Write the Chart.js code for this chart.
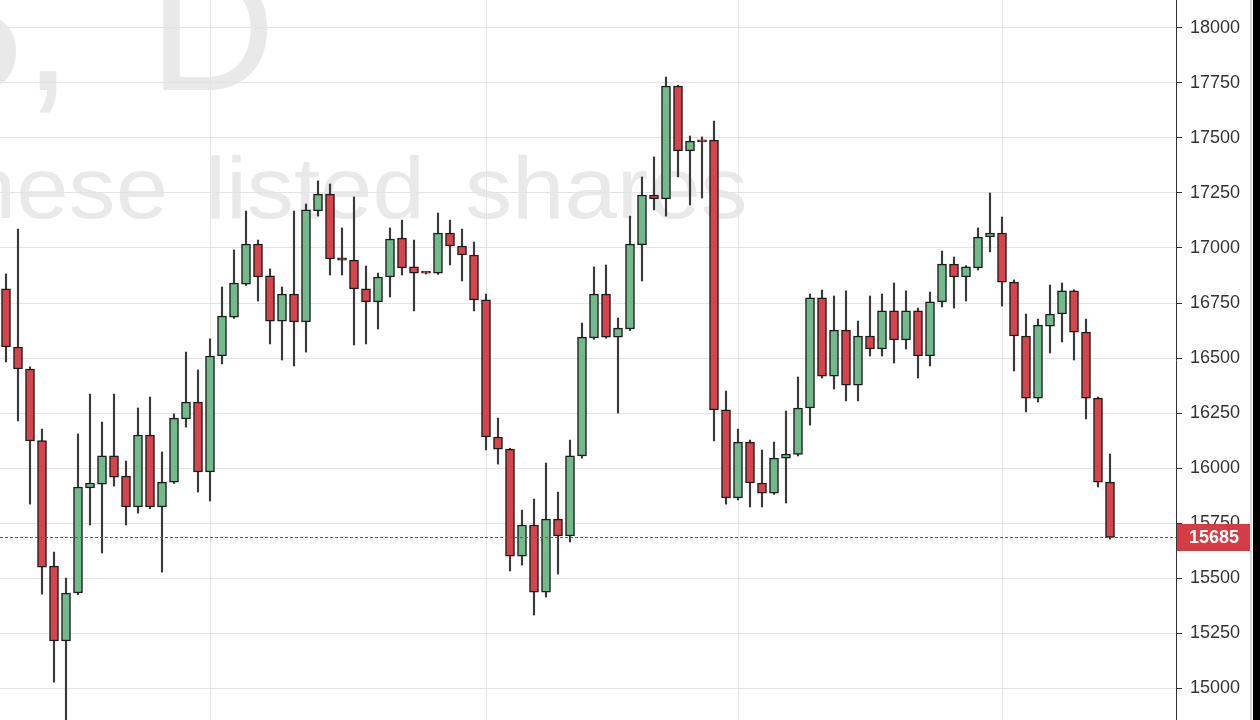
<!DOCTYPE html>
<html>
<head>
<meta charset="utf-8">
<script src="https://cdn.jsdelivr.net/npm/chart.js@4.4.1/dist/chart.umd.min.js"></script>
<style>
  html, body { margin: 0; padding: 0; background: #fff; }
  #wrap { width: 1260px; height: 720px; position: relative; }
</style>
</head>
<body>
<div id="wrap"><canvas id="chart"></canvas></div>
<script>
// daily candles, JP225
const dates = [
  '2016-02-05','2016-02-08','2016-02-09','2016-02-10','2016-02-11','2016-02-12','2016-02-15','2016-02-16','2016-02-17','2016-02-18',
  '2016-02-19','2016-02-22','2016-02-23','2016-02-24','2016-02-25','2016-02-26','2016-02-29',
  '2016-03-01','2016-03-02','2016-03-03','2016-03-04','2016-03-07','2016-03-08','2016-03-09','2016-03-10','2016-03-11','2016-03-14',
  '2016-03-15','2016-03-16','2016-03-17','2016-03-18','2016-03-21','2016-03-22','2016-03-23','2016-03-24','2016-03-25','2016-03-28',
  '2016-03-29','2016-03-30','2016-03-31',
  '2016-04-01','2016-04-04','2016-04-05','2016-04-06','2016-04-07','2016-04-08','2016-04-11','2016-04-12','2016-04-13','2016-04-14',
  '2016-04-15','2016-04-18','2016-04-19','2016-04-20','2016-04-21','2016-04-22','2016-04-25','2016-04-26','2016-04-27','2016-04-28',
  '2016-04-29',
  '2016-05-02','2016-05-03','2016-05-04','2016-05-05','2016-05-06','2016-05-09','2016-05-10','2016-05-11','2016-05-12','2016-05-13',
  '2016-05-16','2016-05-17','2016-05-18','2016-05-19','2016-05-20','2016-05-23','2016-05-24','2016-05-25','2016-05-26','2016-05-27',
  '2016-05-30','2016-05-31',
  '2016-06-01','2016-06-02','2016-06-03','2016-06-06','2016-06-07','2016-06-08','2016-06-09','2016-06-10','2016-06-13','2016-06-14'
];

const opens = [
  16814,16550,16450,16125,15555,15214,15432,15910,15927,16055,
  15964,15823,16150,15823,15936,16223,16300,
  15982,16509,16686,16836,17018,16873,16668,16791,16664,17168,
  17245,16955,16945,16814,16755,16868,17045,16914,16890,16886,
  17068,17009,16968,
  16764,16141,16086,15600,15741,15436,15768,15691,16055,16591,
  16791,16595,16632,17014,17241,17223,17736,17441,17490,17490,
  16264,
  15864,16118,15932,15886,16045,16062,16273,16773,16418,16627,
  16377,16600,16541,16714,16582,16714,16509,16755,16927,16868,
  16909,17050,
  17068,16845,16600,16318,16645,16700,16805,16618,16318,15936
];
const highs = [
  16882,17086,16460,16177,15618,15500,16155,16336,16209,16336,
  16032,16273,16323,16073,16246,16527,16446,
  16587,16823,16991,17168,17036,16905,16823,17168,17200,17305,
  17291,17091,17232,16918,16886,17091,17127,17036,16892,17159,
  17127,17086,17027,
  16791,16227,16090,15809,15859,16023,15891,16127,16659,16914,
  16923,16682,17145,17323,17414,17777,17740,17509,17505,17577,
  16350,
  16177,16127,16082,16118,16259,16414,16791,16809,16782,16805,
  16668,16782,16791,16841,16805,16727,16800,16986,16959,16920,
  17091,17250,
  17141,16855,16700,16677,16832,16841,16810,16677,16323,16064
];
const lows = [
  16482,16214,15836,15427,15027,14830,15425,15741,15614,15918,
  15741,15795,15815,15527,15930,16186,15891,
  15850,16473,16680,16830,16759,16564,16491,16464,16527,17145,
  16877,16877,16559,16564,16632,16777,16877,16714,16882,16880,
  16923,16850,16714,
  16082,16018,15532,15559,15332,15414,15518,15664,16045,16585,
  16590,16250,16625,16850,17173,17145,17323,17195,17227,16123,
  15836,
  15855,15823,15823,15880,15841,16055,16195,16409,16359,16305,
  16305,16509,16509,16477,16541,16409,16464,16732,16727,16759,
  16900,16982,
  16736,16441,16255,16300,16523,16573,16491,16223,15914,15677
];
const closes = [
  16550,16450,16123,15550,15214,15432,15914,15932,16055,15959,
  15823,16150,15823,15936,16227,16300,15982,
  16509,16691,16841,17018,16868,16668,16791,16664,17173,17245,
  16950,16945,16814,16755,16868,17041,16909,16886,16886,17068,
  17009,16968,16764,
  16141,16086,15600,15741,15436,15768,15691,16055,16595,16791,
  16595,16636,17018,17241,17223,17736,17441,17486,17482,16264,
  15864,
  16118,15932,15886,16045,16064,16273,16773,16418,16627,16377,
  16600,16541,16714,16582,16714,16509,16755,16927,16868,16914,
  17050,17068,
  16845,16600,16318,16650,16700,16805,16618,16318,15936,15685
];

const yTicks = [15000, 15250, 15500, 15750, 16000, 16250, 16500, 16750, 17000, 17250, 17500, 17750, 18000];
const yMin = 14855;
const yMax = 18127;
const lastPrice = 15685;
const symbolText = 'JP225,';
const descWords = ['Japanese', 'listed', 'shares'];

const emptySlots = 5; // free space right of the last candle
const upColor = '#72b98b';
const downColor = '#d6454b';
const edgeColor = '#1d1d1d';

// first trading day of each month -> vertical grid lines
const monthStarts = [];
for (let i = 1; i < dates.length; i++) {
  if (dates[i].slice(0, 7) !== dates[i - 1].slice(0, 7)) monthStarts.push(i);
}

const bodies = dates.map((d, i) => ({ x: i, y: [opens[i], closes[i]] }));
const wicks = dates.map((d, i) => ({ x: i, y: [lows[i], highs[i]] }));
const bodyColors = dates.map((d, i) => closes[i] >= opens[i] ? upColor : downColor);

const watermark = {
  id: 'watermark',
  beforeDraw(chart) {
    const c = chart.ctx;
    c.save();
    c.fillStyle = '#fff';
    c.fillRect(0, 0, chart.width, chart.height);
    c.fillStyle = '#e9e9e9';
    c.textBaseline = 'alphabetic';
    c.font = '175px "Liberation Sans", Arial, sans-serif';
    c.textAlign = 'right';
    c.fillText(symbolText, 72, 90);
    c.textAlign = 'left';
    c.fillText('D', 149, 90);
    // second line, a bit wider than the font like the source
    c.font = '88px "Liberation Sans", Arial, sans-serif';
    const sx = 1.07;
    c.save();
    c.translate(168, 218);
    c.scale(sx, 1);
    c.textAlign = 'right';
    c.fillText(descWords[0], 0, 0);
    c.restore();
    c.save();
    c.translate(205, 218);
    c.scale(sx, 1);
    c.textAlign = 'left';
    c.fillText(descWords[1], 0, 0);
    c.restore();
    c.save();
    c.translate(465, 218);
    c.scale(sx, 1);
    c.textAlign = 'left';
    c.fillText(descWords[2], 0, 0);
    c.restore();
    c.restore();
  }
};

const priceMarker = {
  id: 'priceMarker',
  afterDraw(chart) {
    const c = chart.ctx;
    const area = chart.chartArea;
    const y = Math.round(chart.scales.y.getPixelForValue(lastPrice)) + 0.5;
    c.save();
    c.strokeStyle = '#c2323c';
    c.lineWidth = 1;
    c.setLineDash([3, 2]);
    c.beginPath();
    c.moveTo(area.left, y);
    c.lineTo(area.right, y);
    c.stroke();
    c.setLineDash([]);
    c.fillStyle = '#d63c43';
    c.fillRect(area.right + 1, y - 13.5, 73, 27);
    c.fillStyle = '#fff';
    c.font = 'bold 18px "Liberation Sans", Arial, sans-serif';
    c.textAlign = 'left';
    c.textBaseline = 'middle';
    c.fillText(String(lastPrice), 1189, y + 1);
    // frame edge on the right
    c.fillStyle = '#d8d8d8';
    c.fillRect(1250, 0, 2, chart.height);
    c.fillStyle = '#000';
    c.fillRect(1253, 0, 7, chart.height);
    c.restore();
  }
};

new Chart(document.getElementById('chart'), {
  type: 'bar',
  data: {
    datasets: [
      {
        label: 'Body',
        data: bodies,
        backgroundColor: bodyColors,
        borderColor: edgeColor,
        borderWidth: 1.5,
        borderSkipped: false,
        barThickness: 9,
        minBarLength: 2,
        grouped: false,
        order: 0
      },
      {
        label: 'Wick',
        data: wicks,
        backgroundColor: '#3a3a3a',
        borderWidth: 0,
        barThickness: 1.5,
        grouped: false,
        order: 1
      }
    ]
  },
  options: {
    responsive: true,
    maintainAspectRatio: false,
    animation: false,
    layout: { padding: 0 },
    plugins: {
      legend: { display: false },
      tooltip: {
        callbacks: {
          title: (items) => dates[items[0].dataIndex],
          label: (item) => {
            const i = item.dataIndex;
            return 'O ' + opens[i] + '  H ' + highs[i] + '  L ' + lows[i] + '  C ' + closes[i];
          }
        }
      }
    },
    scales: {
      x: {
        type: 'linear',
        offset: false,
        min: -0.5,
        max: dates.length + emptySlots - 0.5,
        afterBuildTicks: (scale) => { scale.ticks = monthStarts.map(v => ({ value: v })); },
        afterFit: (scale) => {
          scale.height = 0;
          scale.paddingLeft = 0; scale.paddingRight = 0;
        },
        ticks: { display: false },
        grid: { color: '#e4e4e4', drawTicks: false, offset: false },
        border: { display: false }
      },
      y: {
        position: 'right',
        min: yMin,
        max: yMax,
        afterBuildTicks: (scale) => { scale.ticks = yTicks.map(v => ({ value: v })); },
        afterFit: (scale) => {
          scale.width = 84;
          scale.paddingTop = 0; scale.paddingBottom = 0;
        },
        ticks: {
          color: '#333',
          padding: 8,
          font: { family: '"Liberation Sans", Arial, sans-serif', size: 18 },
          callback: (v) => String(v)
        },
        grid: { color: '#e4e4e4', tickColor: '#333', tickLength: 6 },
        border: { color: '#333', width: 1 }
      }
    }
  },
  plugins: [watermark, priceMarker]
});
</script>
</body>
</html>
